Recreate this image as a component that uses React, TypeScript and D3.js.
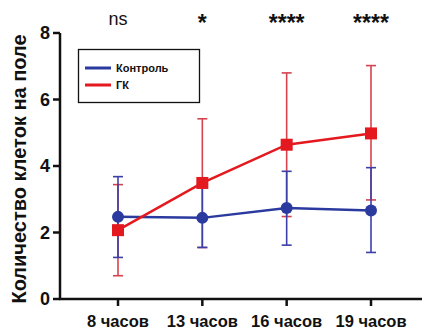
import React from "react";
import * as d3 from "d3";

// категории по оси X
const categories = ["8 часов", "13 часов", "16 часов", "19 часов"];
const signif = ["ns", "*", "****", "****"];

// Контроль: среднее и границы разброса
const controlMean = [2.47, 2.44, 2.74, 2.66];
const controlLow = [1.25, 1.55, 1.62, 1.4];
const controlHigh = [3.68, 3.5, 3.84, 3.95];

// ГК
const gkMean = [2.07, 3.49, 4.64, 4.98];
const gkLow = [0.7, 1.55, 2.48, 2.98];
const gkHigh = [3.44, 5.42, 6.8, 7.02];

const yTicks = [0, 2, 4, 6, 8];

const W = 426;
const H = 333;
const left = 60;
const top = 33;
const bottom = 299;

const BLUE = "#2b3a9e";
const BLUE_ERR = "#3b3fa8";
const RED = "#e4191f";
const RED_ERR = "#d6434f";
const FONT = "'Liberation Sans', Arial, sans-serif";

const App = () => {
  const x = d3.scalePoint<string>().domain(categories).range([118, 371]);
  const y = d3.scaleLinear().domain([0, 8]).range([bottom, top]);

  const line = d3
    .line<number>()
    .x((_, i) => x(categories[i]) as number)
    .y((d) => y(d));

  const errBars = (lo: number[], hi: number[], color: string) =>
    categories.map((c, i) => {
      const cx = x(c) as number;
      return (
        <g key={c} stroke={color} strokeWidth={1.6}>
          <line x1={cx} x2={cx} y1={y(lo[i])} y2={y(hi[i])} />
          <line x1={cx - 5} x2={cx + 5} y1={y(lo[i])} y2={y(lo[i])} />
          <line x1={cx - 5} x2={cx + 5} y1={y(hi[i])} y2={y(hi[i])} />
        </g>
      );
    });

  return (
    <div style={{ position: "absolute", left: 0, top: 0 }}>
      <svg width={W} height={H} style={{ display: "block", background: "#fff" }}>
        {/* заголовок оси Y */}
        <text
          transform={`translate(26,${(top + bottom) / 2 + 3}) rotate(-90)`}
          textAnchor="middle"
          fontFamily={FONT}
          fontWeight="bold"
          fontSize={20}
          fill="#111"
        >
          Количество клеток на поле
        </text>

        {/* ось Y */}
        <line x1={left} x2={left} y1={top} y2={bottom} stroke="#111" strokeWidth={2.5} />
        {yTicks.map((t) => (
          <g key={t}>
            <line x1={left - 7} x2={left} y1={y(t)} y2={y(t)} stroke="#111" strokeWidth={2.5} />
            <text
              x={left - 10}
              y={y(t)}
              dy="0.36em"
              textAnchor="end"
              fontFamily={FONT}
              fontWeight="bold"
              fontSize={18}
              fill="#111"
            >
              {t}
            </text>
          </g>
        ))}

        {/* ось X */}
        <line x1={left - 1} x2={422} y1={bottom} y2={bottom} stroke="#111" strokeWidth={2.5} />
        {categories.map((c) => (
          <g key={c}>
            <line
              x1={x(c) as number}
              x2={x(c) as number}
              y1={bottom}
              y2={bottom + 7}
              stroke="#111"
              strokeWidth={2.5}
            />
            <text
              x={x(c) as number}
              y={327}
              textAnchor="middle"
              fontFamily={FONT}
              fontWeight="bold"
              fontSize={16.5}
              fill="#111"
            >
              {c}
            </text>
          </g>
        ))}

        {/* значимость */}
        {categories.map((c, i) => (
          <text
            key={c}
            x={x(c) as number}
            y={signif[i] === "ns" ? 25 : 31}
            textAnchor="middle"
            fontFamily={FONT}
            fontWeight={signif[i] === "ns" ? "normal" : "bold"}
            fontSize={signif[i] === "ns" ? 18 : 23}
            fill="#111"
          >
            {signif[i]}
          </text>
        ))}

        {/* планки погрешностей */}
        {errBars(gkLow, gkHigh, RED_ERR)}
        {errBars(controlLow, controlHigh, BLUE_ERR)}

        {/* линии */}
        <path d={line(controlMean) || ""} fill="none" stroke={BLUE} strokeWidth={2.5} />
        <path d={line(gkMean) || ""} fill="none" stroke={RED} strokeWidth={2.5} />

        {/* маркеры */}
        {controlMean.map((v, i) => (
          <circle key={i} cx={x(categories[i]) as number} cy={y(v)} r={6} fill={BLUE} />
        ))}
        {gkMean.map((v, i) => (
          <rect
            key={i}
            x={(x(categories[i]) as number) - 6}
            y={y(v) - 6}
            width={12}
            height={12}
            fill={RED}
          />
        ))}

        {/* легенда */}
        <rect x={78.5} y={49.5} width={121} height={53} fill="#fff" stroke="#111" strokeWidth={1.3} />
        <line x1={85} x2={111} y1={68} y2={68} stroke={BLUE} strokeWidth={3} />
        <line x1={85} x2={111} y1={85} y2={85} stroke={RED} strokeWidth={3} />
        <text x={116} y={68} dy="0.36em" fontFamily={FONT} fontWeight="bold" fontSize={11} fill="#111">
          Контроль
        </text>
        <text x={116} y={85} dy="0.36em" fontFamily={FONT} fontWeight="bold" fontSize={11} fill="#111">
          ГК
        </text>
      </svg>
    </div>
  );
};

export default App;
